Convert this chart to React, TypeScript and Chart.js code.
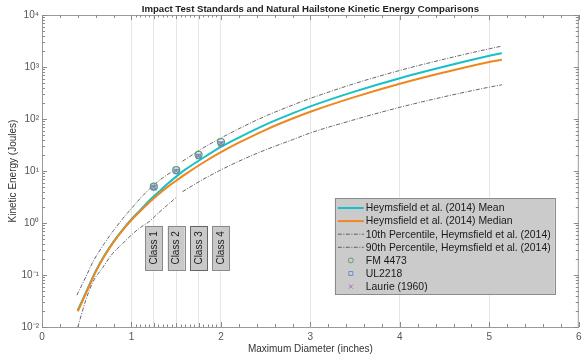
import React, { useEffect, useRef } from "react";
import { Chart, registerables } from "chart.js";
Chart.register(...registerables);

const TITLE = "Impact Test Standards and Natural Hailstone Kinetic Energy Comparisons";
const X_LABEL = "Maximum Diameter (inches)";
const Y_LABEL = "Kinetic Energy (Joules)";

// Heymsfield et al. (2014) mean / median curves
const DIAMETER = [0.4, 0.5, 0.6, 0.7, 0.8, 0.9, 1.0, 1.1, 1.2, 1.3, 1.4, 1.5, 1.6, 1.8, 2.0, 2.2, 2.5, 2.8, 3.0, 3.5, 4.0, 4.5, 5.0, 5.14];
const MEAN_KE = [0.021, 0.05, 0.118, 0.242, 0.44, 0.74, 1.18, 1.78, 2.7, 3.9, 5.6, 7.8, 10.6, 17.8, 29, 44, 78, 128, 175, 340, 610, 1020, 1640, 1850];
const MEDIAN_KE = [0.02, 0.048, 0.115, 0.235, 0.43, 0.72, 1.14, 1.7, 2.5, 3.55, 4.9, 6.5, 8.6, 14.4, 23, 35, 62, 102, 138, 266, 475, 790, 1250, 1380];

// 10th percentile (gap near 1.53 in)
const P10_DIAMETER = [0.4, 0.49, 0.57, 0.68, 0.79, 0.9, 1.0, 1.1, 1.2, 1.3, 1.4, 1.5, 1.53, 1.57, 1.8, 2.0, 2.2, 2.5, 2.8, 3.0, 3.5, 4.0, 4.5, 5.0, 5.14];
const P10_KE = [0.01, 0.033, 0.074, 0.14, 0.26, 0.4, 0.59, 0.82, 1.07, 1.55, 2.2, 3.1, null, 4.0, 6.9, 10.5, 15.4, 25.6, 40, 54, 98, 168, 269, 410, 455];

// 90th percentile (gap near 1.52 in)
const P90_DIAMETER = [0.39, 0.5, 0.57, 0.7, 0.8, 0.9, 1.0, 1.1, 1.24, 1.35, 1.48, 1.52, 1.57, 1.8, 2.0, 2.2, 2.5, 2.8, 3.0, 3.5, 4.0, 4.5, 5.0, 5.14];
const P90_KE = [0.041, 0.1, 0.18, 0.41, 0.72, 1.2, 1.9, 3.0, 5.2, 7.4, 10.4, null, 15.4, 27.7, 43, 65, 114, 185, 249, 484, 860, 1420, 2240, 2520];

// Impact test standards
const CLASS_DIAMETER = [1.25, 1.5, 1.75, 2.0];
const CLASS_LABELS = ["Class 1", "Class 2", "Class 3", "Class 4"];
const FM4473_KE = [5.0, 10.4, 20.5, 36];
const UL2218_KE = [4.8, 9.8, 19, 33];
const LAURIE_KE = [4.9, 10.0, 19.5, 34];

const X_TICKS = [0, 1, 1.25, 1.5, 1.75, 2, 3, 4, 5, 6];
const X_GRID = [1, 1.25, 1.5, 1.75, 2, 3, 4, 5];
const Y_TICKS = [0.01, 0.1, 1, 10, 100, 1000, 10000];

const FONT = "'Liberation Sans', Arial, sans-serif";
const SUP: Record<string, string> = { "-": "\u207B", "0": "\u2070", "1": "\u00B9", "2": "\u00B2", "3": "\u00B3", "4": "\u2074" };

const pts = (xs: number[], ys: (number | null)[]) => xs.map((x, i) => ({ x, y: ys[i] }));

const CYAN = "#17c0c6";
const ORANGE = "#f0871e";
const DASH = "#555555";

const decorPlugin = {
  id: "decor",
  afterDatasetsDraw(chart: any) {
    const { ctx, chartArea: a, scales } = chart;
    const xs = scales.x;
    const ys = scales.y;
    ctx.save();

    // class boxes
    CLASS_DIAMETER.forEach((d, i) => {
      const cx = xs.getPixelForValue(d);
      const top = ys.getPixelForValue(0.88);
      const bot = ys.getPixelForValue(0.125);
      const w = 17;
      ctx.fillStyle = "#c9c9c9";
      ctx.strokeStyle = i === 2 ? "#666" : "#8a8a8a";
      ctx.lineWidth = 1;
      ctx.fillRect(cx - w / 2, top, w, bot - top);
      ctx.strokeRect(Math.round(cx - w / 2) + 0.5, Math.round(top) + 0.5, w, Math.round(bot - top));
      ctx.save();
      ctx.translate(cx, (top + bot) / 2);
      ctx.rotate(-Math.PI / 2);
      ctx.fillStyle = "#222";
      ctx.font = `10px ${FONT}`;
      ctx.textAlign = "center";
      ctx.textBaseline = "middle";
      ctx.fillText(CLASS_LABELS[i], 0, 0.5);
      ctx.restore();
    });

    // frame
    ctx.strokeStyle = "#9a9a9a";
    ctx.lineWidth = 1;
    ctx.beginPath();
    ctx.moveTo(a.left, a.top + 0.5);
    ctx.lineTo(a.right, a.top + 0.5);
    ctx.moveTo(a.right - 0.5, a.top);
    ctx.lineTo(a.right - 0.5, a.bottom);
    ctx.stroke();

    // ticks x (bottom and top, inward)
    ctx.strokeStyle = "#8a8a8a";
    ctx.beginPath();
    const xTick = (v: number, len: number) => {
      const px = Math.round(xs.getPixelForValue(v)) + 0.5;
      ctx.moveTo(px, a.bottom);
      ctx.lineTo(px, a.bottom - len);
      ctx.moveTo(px, a.top);
      ctx.lineTo(px, a.top + len);
    };
    for (let i = 0; i <= 30; i++) {
      const v = i * 0.2;
      if (v > 1.001 && v < 1.999) continue;
      xTick(v, Math.abs(v - Math.round(v)) < 1e-6 ? 5 : 3);
    }
    for (let i = 1; i < 20; i++) {
      const v = 1 + i * 0.05;
      xTick(v, i % 5 === 0 ? 4 : 2.5);
    }
    // ticks y (left and right, inward)
    const yTick = (v: number, len: number) => {
      const py = Math.round(ys.getPixelForValue(v)) + 0.5;
      ctx.moveTo(a.left, py);
      ctx.lineTo(a.left + len, py);
      ctx.moveTo(a.right, py);
      ctx.lineTo(a.right - len, py);
    };
    for (let e = -2; e <= 4; e++) {
      yTick(Math.pow(10, e), 5);
      if (e < 4) for (let m = 2; m <= 9; m++) yTick(m * Math.pow(10, e), 3);
    }
    ctx.stroke();

    // title
    ctx.fillStyle = "#222";
    ctx.font = `bold 9.6px ${FONT}`;
    ctx.textAlign = "center";
    ctx.textBaseline = "middle";
    ctx.fillText(TITLE, (a.left + a.right) / 2, 9);

    // legend
    const lw = 220, lh = 96;
    const lx = a.right - 24 - lw;
    const ly = a.bottom - 33 - lh;
    ctx.fillStyle = "#cbcbcb";
    ctx.fillRect(lx, ly, lw, lh);
    ctx.strokeStyle = "#8c8c8c";
    ctx.strokeRect(Math.round(lx) + 0.5, Math.round(ly) + 0.5, lw, lh);
    ctx.font = `10.4px ${FONT}`;
    ctx.textAlign = "left";
    chart.data.datasets.forEach((ds: any, i: number) => {
      const cy = ly + 10 + i * 13.1;
      const sx0 = lx + 3, sx1 = lx + 29;
      if (ds.showLine !== false) {
        ctx.save();
        ctx.strokeStyle = ds.borderColor;
        ctx.lineWidth = ds.borderWidth;
        ctx.setLineDash(ds.borderDash || []);
        ctx.beginPath();
        ctx.moveTo(sx0, cy);
        ctx.lineTo(sx1, cy);
        ctx.stroke();
        ctx.restore();
      } else {
        ctx.save();
        ctx.strokeStyle = ds.borderColor;
        ctx.lineWidth = 1;
        const mx = lx + 16;
        ctx.beginPath();
        if (ds.pointStyle === "circle") ctx.arc(mx, cy, 2.5, 0, Math.PI * 2);
        else if (ds.pointStyle === "rect") ctx.rect(mx - 2, cy - 2, 4, 4);
        else {
          ctx.moveTo(mx - 2, cy - 2); ctx.lineTo(mx + 2, cy + 2);
          ctx.moveTo(mx + 2, cy - 2); ctx.lineTo(mx - 2, cy + 2);
        }
        ctx.stroke();
        ctx.restore();
      }
      ctx.fillStyle = "#1a1a1a";
      ctx.fillText(ds.label, lx + 31, cy + 0.5);
    });
    ctx.restore();
  },
};

export default function App() {
  const ref = useRef<HTMLCanvasElement>(null);
  useEffect(() => {
    document.body.style.margin = "0";
    const dashed = (label: string, data: any) => ({
      label,
      data,
      borderColor: DASH,
      backgroundColor: DASH,
      borderWidth: 0.9,
      borderDash: [4, 1.5, 1, 1.5],
      pointRadius: 0,
      spanGaps: false,
      cubicInterpolationMode: "monotone",
      order: 3,
    });
    const marker = (label: string, data: number[], color: string, style: string, r: number) => ({
      label,
      data: pts(CLASS_DIAMETER, data),
      showLine: false,
      borderColor: color,
      backgroundColor: "rgba(0,0,0,0)",
      pointStyle: style,
      pointRadius: r,
      pointBorderWidth: 1.2,
      order: 0,
    });
    const chart = new Chart(ref.current!, {
      type: "line",
      data: {
        datasets: [
          { label: "Heymsfield et al. (2014) Mean", data: pts(DIAMETER, MEAN_KE), borderColor: CYAN, backgroundColor: CYAN, borderWidth: 2, pointRadius: 0, cubicInterpolationMode: "monotone", order: 2 },
          { label: "Heymsfield et al. (2014) Median", data: pts(DIAMETER, MEDIAN_KE), borderColor: ORANGE, backgroundColor: ORANGE, borderWidth: 2, pointRadius: 0, cubicInterpolationMode: "monotone", order: 1 },
          dashed("10th Percentile, Heymsfield et al. (2014)", pts(P10_DIAMETER, P10_KE)),
          dashed("90th Percentile, Heymsfield et al. (2014)", pts(P90_DIAMETER, P90_KE)),
          marker("FM 4473", FM4473_KE, "#5e9e6e", "circle", 3.5),
          marker("UL2218", UL2218_KE, "#6a8fd0", "rect", 3),
          marker("Laurie (1960)", LAURIE_KE, "#a070c0", "crossRot", 3),
        ] as any,
      },
      options: {
        responsive: false,
        animation: false,
        layout: { padding: { top: 15, right: 2, left: 0, bottom: 0 } },
        plugins: { legend: { display: false }, tooltip: { enabled: false }, title: { display: false } },
        scales: {
          x: {
            type: "linear",
            min: 0,
            max: 6,
            afterBuildTicks: (s: any) => { s.ticks = X_TICKS.map((v) => ({ value: v })); },
            afterFit: (s: any) => { s.height = 33; s.paddingLeft = 0; s.paddingRight = 0; },
            ticks: {
              autoSkip: false,
              maxRotation: 0,
              padding: 4,
              color: "#555",
              font: { family: FONT, size: 10 },
              callback: (v: any) => (Number.isInteger(v) ? String(v) : ""),
            },
            grid: {
              drawTicks: false,
              color: (c: any) => (c.tick && X_GRID.includes(c.tick.value) ? "#e6e6e6" : "rgba(0,0,0,0)"),
              lineWidth: 1,
            },
            border: { display: true, color: "#9a9a9a" },
            title: { display: true, text: X_LABEL, color: "#333", font: { family: FONT, size: 10 }, padding: { top: 0, bottom: 5 } },
          },
          y: {
            type: "logarithmic",
            min: 0.01,
            max: 10000,
            afterBuildTicks: (s: any) => { s.ticks = Y_TICKS.map((v) => ({ value: v, major: true })); },
            afterFit: (s: any) => { s.width = 42; s.paddingTop = 0; s.paddingBottom = 0; },
            ticks: {
              autoSkip: false,
              padding: 3,
              color: "#555",
              font: { family: FONT, size: 10 },
              callback: (v: any) => {
                const e = String(Math.round(Math.log10(Number(v))));
                return "10" + e.split("").map((c) => SUP[c]).join("");
              },
            },
            grid: { display: false, drawTicks: false },
            border: { display: true, color: "#9a9a9a" },
            title: { display: true, text: Y_LABEL, color: "#333", font: { family: FONT, size: 10 }, padding: { top: 7, bottom: 0 } },
          },
        },
      } as any,
      plugins: [decorPlugin],
    });
    return () => chart.destroy();
  }, []);
  return (
    <div style={{ width: 584, height: 360 }}>
      <canvas ref={ref} width={584} height={360} />
    </div>
  );
}
